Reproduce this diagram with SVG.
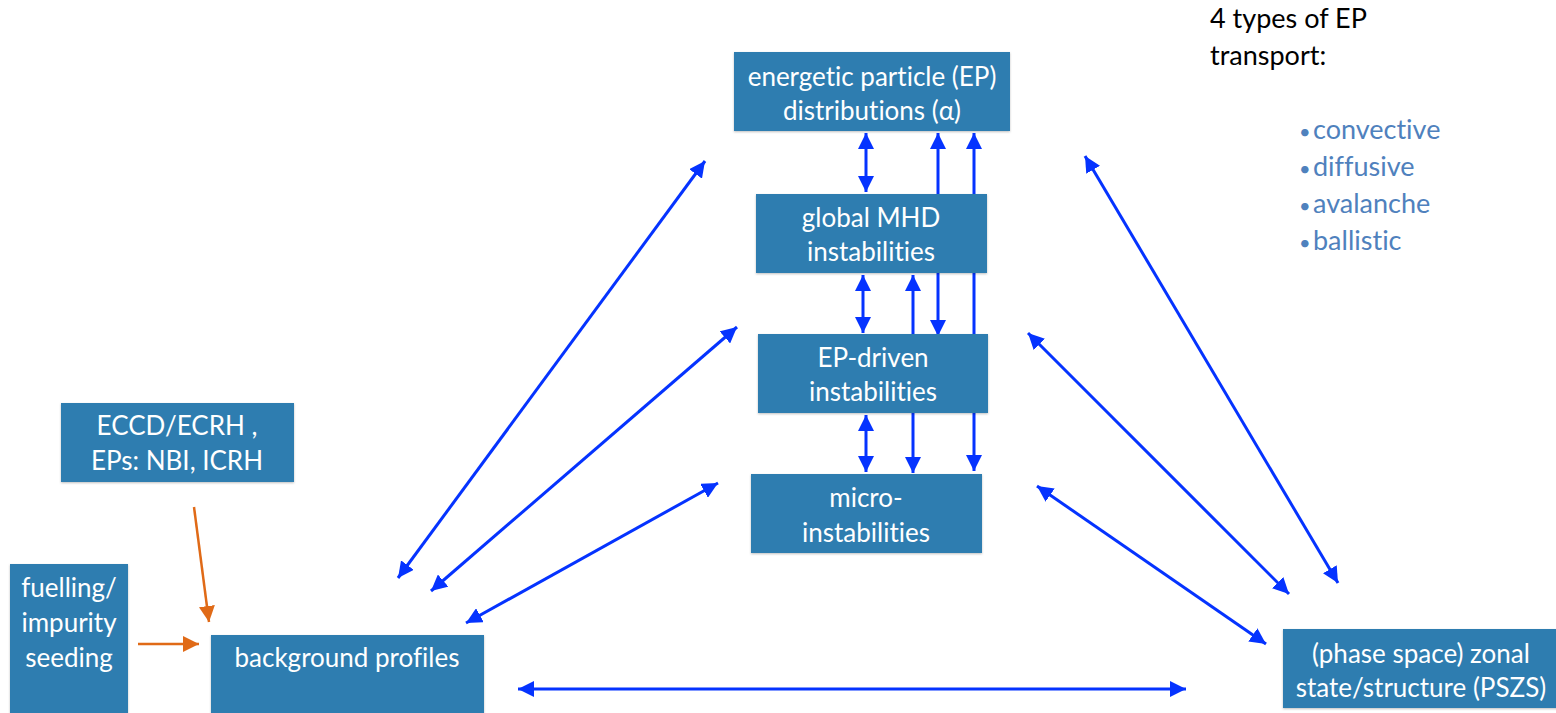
<svg xmlns="http://www.w3.org/2000/svg" width="1556" height="713" viewBox="0 0 1556 713">
<style>
text{font-variant-ligatures:none;font-feature-settings:"liga" 0}
.box{fill:#2f7db0;filter:url(#sh)}
.t{font-family:Lato,"Liberation Sans",sans-serif;font-size:26px;fill:#ffffff;text-anchor:middle}
.c{fill:none;stroke:#0533ff;stroke-width:3}
.o{fill:none;stroke:#e06a17;stroke-width:2.5}
.h{font-family:Lato,"Liberation Sans",sans-serif;font-size:27px;fill:#000000}
.b{font-family:Lato,"Liberation Sans",sans-serif;font-size:27px;fill:#4f81bd}
.d{font-size:20px}
</style>
<defs>
<filter id="sh" x="-5%" y="-5%" width="110%" height="115%">
<feDropShadow dx="0" dy="1" stdDeviation="1" flood-color="#000" flood-opacity="0.25"/>
</filter>
<marker id="ab" markerUnits="userSpaceOnUse" markerWidth="17" markerHeight="16" refX="16" refY="8" orient="auto-start-reverse" viewBox="0 0 17 16">
<path d="M0,0 L16,8 L0,16 z" fill="#0533ff"/>
</marker>
<marker id="ao" markerUnits="userSpaceOnUse" markerWidth="17" markerHeight="16" refX="16" refY="8" orient="auto" viewBox="0 0 17 16">
<path d="M0,0 L16,8 L0,16 z" fill="#e06a17"/>
</marker>
</defs>
<rect width="1556" height="713" fill="#ffffff"/>

<g id="connectors">
<line class="c" x1="866" y1="133" x2="866" y2="192" marker-start="url(#ab)" marker-end="url(#ab)"/>
<line class="c" x1="938" y1="133" x2="938" y2="336" marker-start="url(#ab)" marker-end="url(#ab)"/>
<line class="c" x1="974" y1="133" x2="974" y2="471" marker-start="url(#ab)" marker-end="url(#ab)"/>
<line class="c" x1="863" y1="275" x2="863" y2="333" marker-start="url(#ab)" marker-end="url(#ab)"/>
<line class="c" x1="913" y1="275" x2="913" y2="473" marker-start="url(#ab)" marker-end="url(#ab)"/>
<line class="c" x1="866" y1="415" x2="866" y2="472" marker-start="url(#ab)" marker-end="url(#ab)"/>
<line class="c" x1="705" y1="161" x2="398" y2="578" marker-start="url(#ab)" marker-end="url(#ab)"/>
<line class="c" x1="737" y1="327" x2="431" y2="591" marker-start="url(#ab)" marker-end="url(#ab)"/>
<line class="c" x1="718" y1="483" x2="466" y2="623" marker-start="url(#ab)" marker-end="url(#ab)"/>
<line class="c" x1="518" y1="689" x2="1186" y2="689" marker-start="url(#ab)" marker-end="url(#ab)"/>
<line class="c" x1="1085" y1="156" x2="1338" y2="583" marker-start="url(#ab)" marker-end="url(#ab)"/>
<line class="c" x1="1028" y1="333" x2="1289" y2="594" marker-start="url(#ab)" marker-end="url(#ab)"/>
<line class="c" x1="1037" y1="486" x2="1266" y2="644" marker-start="url(#ab)" marker-end="url(#ab)"/>
<line class="o" x1="194" y1="507" x2="209" y2="622" marker-end="url(#ao)"/>
<line class="o" x1="138" y1="644" x2="199" y2="644" marker-end="url(#ao)"/>
</g>

<g id="ep-dist">
<rect class="box" x="734" y="52" width="276" height="79"/>
<text class="t" x="872" y="86">energetic particle (EP)</text>
<text class="t" x="872" y="120">distributions (α)</text>
</g>
<g id="global-mhd">
<rect class="box" x="756" y="194" width="231" height="79"/>
<text class="t" x="871" y="227">global MHD</text>
<text class="t" x="871" y="261">instabilities</text>
</g>
<g id="ep-driven">
<rect class="box" x="758" y="334" width="230" height="79"/>
<text class="t" x="873" y="367">EP-driven</text>
<text class="t" x="873" y="401">instabilities</text>
</g>
<g id="micro">
<rect class="box" x="751" y="474" width="231" height="79"/>
<text class="t" x="866" y="507">micro-</text>
<text class="t" x="866" y="542">instabilities</text>
</g>
<g id="eccd">
<rect class="box" x="61" y="403" width="233" height="79"/>
<text class="t" x="177" y="435">ECCD/ECRH ,</text>
<text class="t" x="177" y="470">EPs: NBI, ICRH</text>
</g>
<g id="fuelling">
<rect class="box" x="10" y="564" width="118" height="152"/>
<text class="t" x="69" y="597">fuelling/</text>
<text class="t" x="69" y="632">impurity</text>
<text class="t" x="69" y="667">seeding</text>
</g>
<g id="background">
<rect class="box" x="211" y="635" width="273" height="82"/>
<text class="t" x="347" y="667">background profiles</text>
</g>
<g id="pszs">
<rect class="box" x="1283" y="629" width="276" height="79"/>
<text class="t" x="1421" y="663">(phase space) zonal</text>
<text class="t" x="1421" y="697">state/structure (PSZS)</text>
</g>

<g id="legend">
<text class="h" x="1210" y="28">4 types of EP</text>
<text class="h" x="1210" y="65">transport:</text>
<text class="b" x="1299" y="139"><tspan class="d">•</tspan><tspan x="1313">convective</tspan></text>
<text class="b" x="1299" y="176"><tspan class="d">•</tspan><tspan x="1313">diffusive</tspan></text>
<text class="b" x="1299" y="213"><tspan class="d">•</tspan><tspan x="1313">avalanche</tspan></text>
<text class="b" x="1299" y="250"><tspan class="d">•</tspan><tspan x="1313">ballistic</tspan></text>
</g>
</svg>
